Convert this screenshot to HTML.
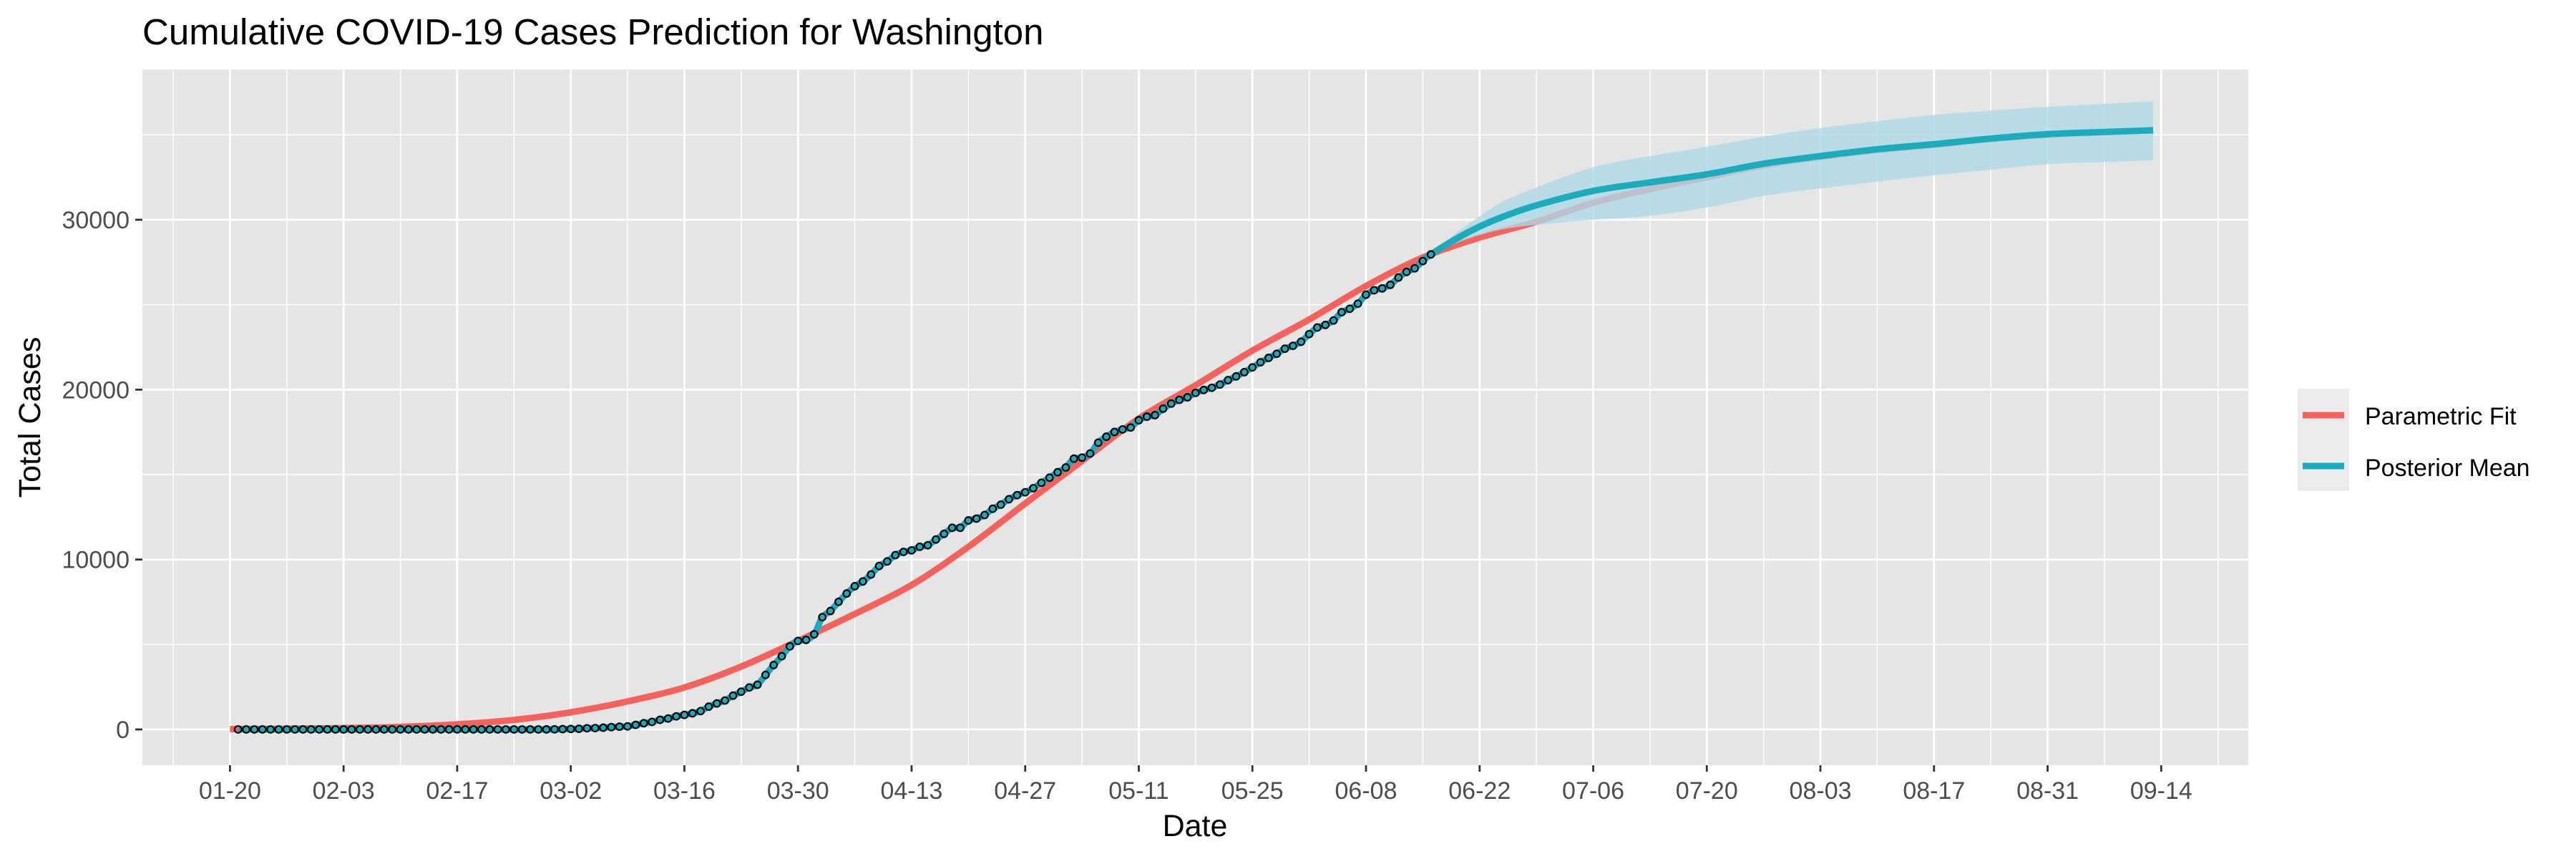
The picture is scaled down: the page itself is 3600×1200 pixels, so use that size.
<!DOCTYPE html>
<html><head><meta charset="utf-8"><style>
html,body{margin:0;padding:0;background:#fff;}
svg{display:block;font-family:"Liberation Sans",Arial,sans-serif;}
</style></head><body>
<svg id="chart" width="3600" height="1200" viewBox="0 0 3600 1200" xmlns="http://www.w3.org/2000/svg">
<rect width="3600" height="1200" fill="#ffffff"/>
<text x="199" y="62" font-size="51" fill="#000">Cumulative COVID-19 Cases Prediction for Washington</text>
<rect x="199" y="97" width="2943" height="972" fill="#e5e5e5"/>
<g id="grid"></g>
<g id="band"></g>
<g id="lines"></g>
<g id="pts"></g>
<g id="axes"></g>
<text x="1670" y="1168" font-size="43" text-anchor="middle" fill="#000">Date</text>
<text transform="translate(56,583) rotate(-90)" font-size="43" text-anchor="middle" fill="#000">Total Cases</text>
<g>
<rect x="3211" y="543" width="72" height="143" fill="#ebebeb"/>
<line x1="3218" y1="580" x2="3276" y2="580" stroke="#f5625b" stroke-width="9"/>
<line x1="3218" y1="651" x2="3276" y2="651" stroke="#1aabbd" stroke-width="9"/>
<text x="3305" y="593" font-size="34" fill="#000">Parametric Fit</text>
<text x="3305" y="665" font-size="34" fill="#000">Posterior Mean</text>
</g>
</svg>
<script>
// observed cumulative cases, day 1 = 01-21
const obsEarly = [1,1,1,1,1,1,1,1,1,1,1,1,1,1,1,1,1,1,1,1,1,1,1,1,1,1,1,1,1,1,1,1,1,1,1,1,1,1,2,6,18,27,39,70,79,102,136,162,179,267,366,442,568,642,769,855,950,1080,1340,1530,1700,1990,2220,2470,2630,3210,3790,4310];
const obsLate = [4890,5210,5270,5600,6610,6970,7510,8000,8430,8710,9120,9620,9890,10260,10450,10540,10750,10840,11180,11510,11870,11870,12300,12410,12620,12990,13230,13550,13790,13960,14200,14520,14820,15140,15420,15940,16000,16240,16880,17230,17510,17660,17770,18200,18410,18500,18880,19180,19400,19550,19810,19980,20110,20300,20560,20780,21030,21310,21610,21870,22110,22410,22580,22820,23270,23660,23810,24070,24560,24760,25060,25590,25850,25960,26170,26600,26930,27140,27570,27960];
// parametric fit
const fitDays = [0,7,14,21,28,35,42,49,56,63,70,77,84,91,98,105,112,119,126,133,140,147,154,161,168,175,182,189,196,203,210,217,224,231,237];
const fitVals = [20,40,80,150,300,560,1010,1650,2470,3700,5210,6800,8500,10750,13300,15800,18300,20260,22300,24130,26100,27780,28950,29880,31000,31800,32500,33200,33700,34100,34400,34750,35000,35150,35250];
// posterior forecast
const fcDays = [148,151,154,157,161,168,175,182,189,196,203,210,217,224,231,237];
const fcMean = [27960,28850,29600,30200,30850,31700,32200,32680,33300,33750,34150,34450,34780,35040,35170,35270];
const fcUpper = [27960,29200,30200,31100,31900,33100,33750,34300,34900,35400,35800,36170,36420,36650,36820,36970];
const fcLower = [27960,28600,29100,29450,29700,30000,30230,30720,31400,31850,32250,32620,32950,33270,33400,33500];
const xTickLabels = ["01-20","02-03","02-17","03-02","03-16","03-30","04-13","04-27","05-11","05-25","06-08","06-22","07-06","07-20","08-03","08-17","08-31","09-14"];
const yTicks = [0,10000,20000,30000];

const NS = "http://www.w3.org/2000/svg";
const X0 = 321.4, PXD = 11.34, Y0 = 1019, PXV = 0.023733;
const PL = 199, PR = 3142, PT = 97, PB = 1069;
function xs(d){return X0 + d*PXD;}
function ys(v){return Y0 - v*PXV;}
function mk(tag, attrs, parent){const e=document.createElementNS(NS,tag);for(const k in attrs)e.setAttribute(k,attrs[k]);parent.appendChild(e);return e;}

const grid=document.getElementById('grid');
for(let v=-5000; v<=40000; v+=10000){const y=ys(v); if(y>PT&&y<PB){const l=mk('line',{x1:PL,x2:PR,y1:y,y2:y,stroke:'#fff','stroke-width':1.4},grid);

}}
for(let d=-7; d<260; d+=14){const x=xs(d); if(x>PL&&x<PR){const l=mk('line',{x1:x,x2:x,y1:PT,y2:PB,stroke:'#fff','stroke-width':1.4},grid);

}}
const axes=document.getElementById('axes');
yTicks.forEach(v=>{const y=ys(v);
const l=mk('line',{x1:PL,x2:PR,y1:y,y2:y,stroke:'#fff','stroke-width':2.8},grid);


const t=mk('line',{x1:189,x2:PL,y1:y,y2:y,stroke:'#333','stroke-width':2.8},axes);


const tx=mk('text',{x:181,y:y+12,'font-size':34,'text-anchor':'end',fill:'#4d4d4d'},axes);tx.textContent=v;


});
xTickLabels.forEach((lab,i)=>{const x=xs(i*14);
const l=mk('line',{x1:x,x2:x,y1:PT,y2:PB,stroke:'#fff','stroke-width':2.8},grid);


const t=mk('line',{x1:x,x2:x,y1:PB,y2:PB+9,stroke:'#333','stroke-width':2.8},axes);


const tx=mk('text',{x:x,y:1116,'font-size':34,'text-anchor':'middle',fill:'#4d4d4d'},axes);tx.textContent=lab;


});

function smooth(pts){let d='M'+pts[0][0]+','+pts[0][1];for(let i=0;i<pts.length-1;i++){const p0=pts[Math.max(0,i-1)],p1=pts[i],p2=pts[i+1],p3=pts[Math.min(pts.length-1,i+2)];
d+=' C'+(p1[0]+(p2[0]-p0[0])/6)+','+(p1[1]+(p2[1]-p0[1])/6)+' '+(p2[0]-(p3[0]-p1[0])/6)+','+(p2[1]-(p3[1]-p1[1])/6)+' '+p2[0]+','+p2[1];}return d;}

const lines=document.getElementById('lines');
const fit=mk('path',{d:smooth(fitDays.map((d,i)=>[xs(d),ys(fitVals[i])])),fill:'none',stroke:'#f5625b','stroke-width':9,'stroke-linejoin':'round'},lines);



// band drawn over the red line (semi-transparent), under blue
const up=fcDays.map((d,i)=>[xs(d),ys(fcUpper[i])]);
const lo=fcDays.map((d,i)=>[xs(d),ys(fcLower[i])]).reverse();
let bd=smooth(up)+' L'+lo[0][0]+','+lo[0][1]+smooth(lo).replace(/^M[^C]*/,' ')+' Z';
const band=mk('path',{d:bd,fill:'#add8e6','fill-opacity':0.8},lines);



const obs=obsEarly.concat(obsLate);
const postPts=obs.map((v,i)=>[xs(i+1),ys(v)]).concat(fcDays.slice(1).map((d,i)=>[xs(d),ys(fcMean[i+1])]));
const post=mk('path',{d:smooth(postPts),fill:'none',stroke:'#1aabbd','stroke-width':9,'stroke-linejoin':'round'},lines);



const pts=document.getElementById('pts');
obs.forEach((v,i)=>{const c=mk('circle',{cx:xs(i+1),cy:ys(v),r:4.8,fill:'none',stroke:'#000','stroke-width':2.2},pts);

});
</script>
</body></html>
